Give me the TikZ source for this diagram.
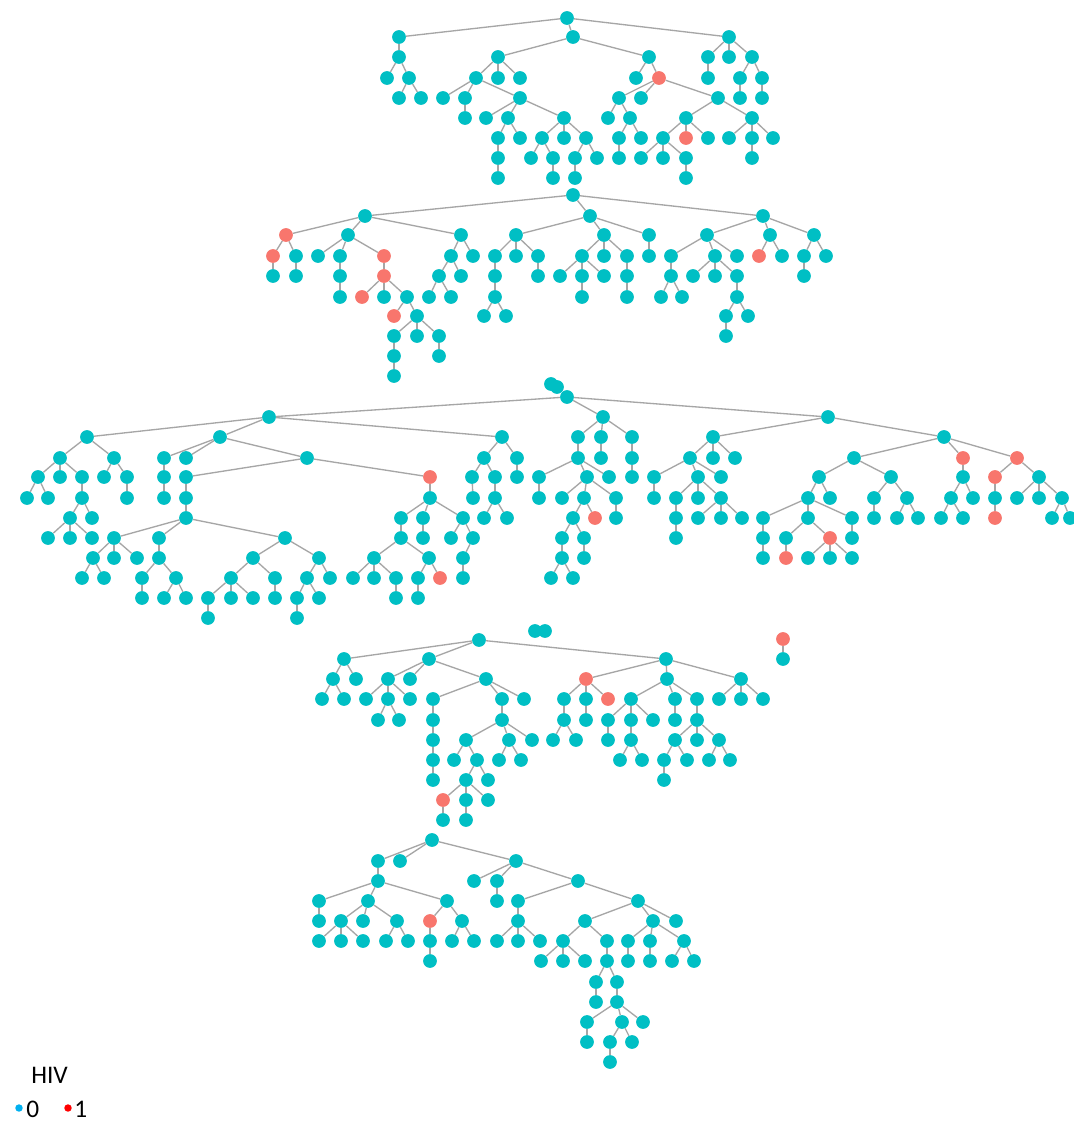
\documentclass[tikz,border=0pt]{standalone}
\usepackage{fontspec}
\setmainfont{Carlito}
\usetikzlibrary{backgrounds}
\definecolor{teal0}{HTML}{00BFC4}
\definecolor{red0}{HTML}{F8766D}
\definecolor{edgec}{HTML}{A6A6A6}
\definecolor{legblue}{HTML}{00B0F0}
\definecolor{legred}{HTML}{FF0000}
\begin{document}
\begin{tikzpicture}[x=0.75pt,y=-0.75pt,
  tn/.style={circle,fill=teal0,inner sep=0pt,minimum size=10.3pt},
  rn/.style={circle,fill=red0,inner sep=0pt,minimum size=10.3pt},
  edge/.style={draw=edgec,line width=1pt},
  legtext/.style={inner sep=0pt,anchor=base west,font=\fontsize{19}{21}\selectfont},
  legdot/.style={circle,inner sep=0pt,minimum size=5.6pt}]
\begin{pgfonlayer}{background}
\fill[white] (0,0) rectangle (1074,1124);
\end{pgfonlayer}
\useasboundingbox (0,0) rectangle (1074,1124);
% ---------- teal nodes ----------
\foreach \x/\y in {
567/18, 399/37, 573/37, 729/37,
399/57, 498/57, 649/57, 708/57, 729/57, 752/57,
387/78, 409/78, 476/78, 498/78, 520/78, 636/78, 708/78, 740/78, 762/78,
399/98, 421/98, 443/98, 465/98, 520/98, 619/98, 641/98, 718/98, 740/98, 762/98,
465/118, 486/118, 508/118, 564/118, 608/118, 630/118, 686/118, 752/118,
498/138, 520/138, 542/138, 564/138, 586/138, 619/138, 641/138, 663/138, 708/138, 729/138, 752/138, 773/138,
498/158, 531/158, 553/158, 575/158, 597/158, 619/158, 641/158, 663/158, 686/158, 752/158,
498/178, 553/178, 575/178, 686/178,
573/195, 365/216, 590/216, 763/216,
348/235, 461/235, 516/235, 604/235, 649/235, 707/235, 770/235, 814/235,
296/256, 318/256, 340/256, 451/256, 473/256, 495/256, 516/256, 538/256, 582/256, 604/256, 627/256, 649/256, 671/256, 715/256, 737/256, 782/256, 804/256, 826/256,
273/276, 296/276, 340/276, 439/276, 461/276, 495/276, 538/276, 560/276, 582/276, 604/276, 627/276, 671/276, 693/276, 715/276, 737/276, 804/276,
340/297, 384/297, 407/297, 429/297, 451/297, 495/297, 582/297, 627/297, 661/297, 682/297, 737/297,
417/316, 484/316, 506/316, 726/316, 748/316,
394/336, 417/336, 439/336, 726/336,
394/356, 439/356, 394/376}
  \node[tn] (n\x-\y) at (\x,\y) {};
\foreach \x/\y in {
567/397, 269/417, 603/417, 828/417,
87/437, 220/437, 502/437, 578/437, 601/437, 632/437, 713/437, 944/437,
60/458, 114/458, 164/458, 186/458, 307/458, 484/458, 517/458, 578/458, 601/458, 632/458, 690/458, 713/458, 735/458, 854/458,
38/477, 60/477, 82/477, 104/477, 127/477, 164/477, 186/477, 472/477, 495/477, 517/477, 539/477, 587/477, 609/477, 632/477, 654/477, 698/477, 721/477, 819/477, 891/477, 963/477, 1039/477,
27/498, 48/498, 82/498, 127/498, 164/498, 186/498, 430/498, 473/498, 495/498, 539/498, 562/498, 584/498, 616/498, 654/498, 676/498, 698/498, 721/498, 808/498, 830/498, 874/498, 907/498, 951/498, 973/498, 995/498, 1017/498, 1039/498, 1062/498,
70/518, 92/518, 186/518, 401/518, 423/518, 463/518, 484/518, 507/518, 573/518, 616/518, 676/518, 698/518, 721/518, 742/518, 763/518, 808/518, 852/518, 874/518, 897/518, 918/518, 941/518, 963/518, 1052/518, 1070/518,
48/538, 70/538, 92/538, 114/538, 159/538, 285/538, 401/538, 423/538, 451/538, 473/538, 562/538, 584/538, 676/538, 763/538, 786/538, 852/538,
93/558, 114/558, 137/558, 159/558, 253/558, 319/558, 374/558, 429/558, 463/558, 562/558, 584/558, 763/558, 808/558, 830/558, 852/558,
82/578, 104/578, 142/578, 176/578, 231/578, 275/578, 307/578, 330/578, 353/578, 374/578, 396/578, 418/578, 463/578, 551/578, 573/578,
142/598, 164/598, 186/598, 208/598, 231/598, 253/598, 275/598, 297/598, 319/598, 396/598, 418/598,
208/618, 297/618}
  \node[tn] (n\x-\y) at (\x,\y) {};
\foreach \x/\y in {
479/640, 344/659, 429/659, 666/659,
333/679, 356/679, 388/679, 410/679, 486/679, 667/679, 741/679,
322/699, 344/699, 366/699, 388/699, 410/699, 433/699, 502/699, 524/699, 564/699, 586/699, 631/699, 675/699, 697/699, 719/699, 741/699, 763/699,
378/720, 399/720, 433/720, 502/720, 564/720, 586/720, 608/720, 631/720, 653/720, 675/720, 697/720,
433/740, 466/740, 509/740, 532/740, 553/740, 576/740, 608/740, 631/740, 675/740, 697/740, 719/740,
433/760, 454/760, 477/760, 499/760, 521/760, 620/760, 642/760, 664/760, 687/760, 709/760, 730/760,
433/780, 466/780, 488/780, 664/780,
466/800, 488/800, 443/820, 466/820, 783/659,
432/840, 378/861, 400/861, 516/861,
378/881, 474/881, 497/881, 578/881,
319/901, 368/901, 447/901, 497/901, 518/901, 638/901,
319/921, 341/921, 363/921, 397/921, 462/921, 518/921, 585/921, 653/921, 676/921,
319/941, 341/941, 363/941, 386/941, 408/941, 430/941, 452/941, 474/941, 497/941, 518/941, 540/941, 563/941, 607/941, 628/941, 650/941, 684/941,
430/961, 541/961, 563/961, 585/961, 607/961, 628/961, 650/961, 672/961, 694/961,
596/982, 617/982, 596/1002, 617/1002,
587/1022, 622/1022, 643/1022,
587/1042, 610/1042, 632/1042,
610/1062}
  \node[tn] (n\x-\y) at (\x,\y) {};
% ---------- red nodes ----------
\foreach \x/\y in {
659/78, 686/138,
286/235, 273/256, 384/256, 759/256, 384/276, 362/297, 394/316,
963/458, 1017/458, 430/477, 995/477, 595/518, 995/518, 830/538, 786/558, 440/578,
586/679, 608/699, 443/800, 783/639,
430/921}
  \node[rn] (n\x-\y) at (\x,\y) {};
% ---------- small isolated blobs ----------
\node[tn] (blobA1) at (551,384) {};
\node[tn] (blobA2) at (557,387) {};
\node[tn] (blobB1) at (535,631) {};
\node[tn] (blobB2) at (545,631) {};
% ---------- edges ----------
\begin{pgfonlayer}{background}
\foreach \a/\b in {
567-18/399-37, 567-18/573-37, 567-18/729-37,
399-37/399-57, 399-57/387-78, 399-57/409-78, 409-78/399-98, 409-78/421-98,
573-37/498-57, 573-37/649-57,
498-57/476-78, 498-57/498-78, 498-57/520-78,
476-78/443-98, 476-78/465-98, 476-78/520-98,
465-98/465-118,
520-98/486-118, 520-98/508-118, 520-98/564-118,
508-118/498-138, 508-118/520-138,
498-138/498-158, 498-158/498-178,
564-118/542-138, 564-118/564-138, 564-118/586-138,
542-138/531-158, 542-138/553-158, 553-158/553-178,
586-138/575-158, 586-138/597-158, 575-158/575-178,
649-57/636-78, 649-57/659-78,
659-78/619-98, 659-78/641-98, 659-78/718-98,
619-98/608-118, 619-98/630-118,
630-118/619-138, 630-118/641-138, 619-138/619-158,
718-98/686-118, 718-98/752-118,
686-118/663-138, 686-118/686-138, 686-118/708-138,
663-138/641-158, 663-138/663-158, 663-138/686-158, 686-158/686-178,
752-118/729-138, 752-118/752-138, 752-118/773-138, 752-138/752-158,
729-37/708-57, 729-37/729-57, 729-37/752-57,
708-57/708-78, 752-57/740-78, 752-57/762-78, 740-78/740-98, 762-78/762-98}
  \draw[edge] (n\a) -- (n\b);
\foreach \a/\b in {
573-195/365-216, 573-195/590-216, 573-195/763-216,
365-216/286-235, 365-216/348-235, 365-216/461-235,
286-235/273-256, 286-235/296-256, 273-256/273-276, 296-256/296-276,
348-235/318-256, 348-235/340-256, 348-235/384-256,
340-256/340-276, 340-276/340-297,
384-256/384-276, 384-276/362-297, 384-276/384-297, 384-276/407-297,
407-297/394-316, 407-297/417-316,
417-316/394-336, 417-316/417-336, 417-316/439-336,
394-336/394-356, 394-356/394-376, 439-336/439-356,
461-235/451-256, 461-235/473-256, 451-256/439-276, 451-256/461-276,
439-276/429-297, 439-276/451-297,
590-216/516-235, 590-216/604-235, 590-216/649-235,
516-235/495-256, 516-235/516-256, 516-235/538-256,
495-256/495-276, 495-276/495-297, 495-297/484-316, 495-297/506-316,
538-256/538-276,
604-235/582-256, 604-235/604-256, 604-235/627-256,
582-256/560-276, 582-256/582-276, 582-256/604-276, 582-276/582-297,
627-256/627-276, 627-276/627-297,
649-235/649-256,
763-216/707-235, 763-216/770-235, 763-216/814-235,
707-235/671-256, 707-235/715-256, 707-235/737-256,
671-256/671-276, 671-276/661-297, 671-276/682-297,
715-256/693-276, 715-256/715-276, 715-256/737-276,
737-276/737-297, 737-297/726-316, 737-297/748-316, 726-316/726-336,
770-235/759-256, 770-235/782-256,
814-235/804-256, 814-235/826-256, 804-256/804-276}
  \draw[edge] (n\a) -- (n\b);
\foreach \a/\b in {
567-397/269-417, 567-397/603-417, 567-397/828-417,
269-417/87-437, 269-417/220-437, 269-417/502-437,
87-437/60-458, 87-437/114-458,
60-458/38-477, 60-458/60-477, 60-458/82-477,
38-477/27-498, 38-477/48-498,
82-477/82-498, 82-498/70-518, 82-498/92-518,
70-518/48-538, 70-518/70-538, 70-518/92-538,
114-458/104-477, 114-458/127-477, 127-477/127-498,
220-437/164-458, 220-437/186-458, 220-437/307-458,
164-458/164-477, 164-477/164-498,
307-458/186-477, 307-458/430-477,
186-477/186-498, 186-498/186-518,
186-518/114-538, 186-518/159-538, 186-518/285-538,
114-538/93-558, 114-538/114-558, 114-538/137-558,
93-558/82-578, 93-558/104-578,
159-538/159-558, 159-558/142-578, 159-558/176-578,
142-578/142-598, 176-578/164-598, 176-578/186-598,
285-538/253-558, 285-538/319-558,
253-558/231-578, 253-558/275-578,
231-578/208-598, 231-578/231-598, 231-578/253-598, 208-598/208-618,
275-578/275-598,
319-558/307-578, 319-558/330-578,
307-578/297-598, 307-578/319-598, 297-598/297-618,
430-477/430-498,
430-498/401-518, 430-498/423-518, 430-498/463-518,
401-518/401-538, 401-538/374-558, 401-538/429-558,
374-558/353-578, 374-558/374-578, 374-558/396-578, 396-578/396-598,
429-558/418-578, 429-558/440-578, 418-578/418-598,
423-518/423-538,
463-518/451-538, 463-518/473-538, 473-538/463-558, 463-558/463-578,
502-437/484-458, 502-437/517-458,
484-458/472-477, 484-458/495-477, 472-477/473-498,
495-477/495-498, 495-498/484-518, 495-498/507-518,
517-458/517-477}
  \draw[edge] (n\a) -- (n\b);
\foreach \a/\b in {
603-417/578-437, 603-417/601-437, 603-417/632-437,
578-437/578-458, 578-458/539-477, 578-458/587-477, 578-458/609-477,
539-477/539-498,
587-477/562-498, 587-477/584-498, 587-477/616-498,
584-498/573-518, 584-498/595-518,
573-518/562-538, 573-518/584-538,
562-538/562-558, 562-558/551-578, 562-558/573-578,
584-538/584-558,
616-498/616-518,
601-437/601-458,
632-437/632-458, 632-458/632-477,
828-417/713-437, 828-417/944-437,
713-437/690-458, 713-437/713-458, 713-437/735-458,
690-458/654-477, 690-458/698-477, 690-458/721-477,
654-477/654-498,
698-477/676-498, 698-477/698-498, 698-477/721-498,
676-498/676-518, 676-518/676-538,
721-498/698-518, 721-498/721-518, 721-498/742-518,
944-437/854-458, 944-437/963-458, 944-437/1017-458,
854-458/819-477, 854-458/891-477,
819-477/808-498, 819-477/830-498,
808-498/763-518, 808-498/808-518, 808-498/852-518,
763-518/763-538, 763-538/763-558,
808-518/786-538, 808-518/830-538,
786-538/786-558,
830-538/808-558, 830-538/830-558, 830-538/852-558,
852-518/852-538,
891-477/874-498, 891-477/907-498, 874-498/874-518,
907-498/897-518, 907-498/918-518,
963-458/963-477, 963-477/951-498, 963-477/973-498,
951-498/941-518, 951-498/963-518,
1017-458/995-477, 1017-458/1039-477,
995-477/995-498, 995-498/995-518,
1039-477/1017-498, 1039-477/1039-498, 1039-477/1062-498,
1062-498/1052-518, 1062-498/1070-518}
  \draw[edge] (n\a) -- (n\b);
\foreach \a/\b in {
479-640/344-659, 479-640/429-659, 479-640/666-659,
344-659/333-679, 344-659/356-679,
333-679/322-699, 333-679/344-699,
429-659/388-679, 429-659/410-679, 429-659/486-679,
388-679/366-699, 388-679/388-699, 388-679/410-699,
388-699/378-720, 388-699/399-720,
486-679/433-699, 486-679/502-699, 486-679/524-699,
433-699/433-720, 433-720/433-740, 433-740/433-760, 433-760/433-780,
502-699/502-720,
502-720/466-740, 502-720/509-740, 502-720/532-740,
466-740/454-760, 466-740/477-760,
477-760/466-780, 477-760/488-780,
466-780/443-800, 466-780/466-800, 466-780/488-800,
443-800/443-820, 466-800/466-820,
509-740/499-760, 509-740/521-760,
666-659/586-679, 666-659/667-679, 666-659/741-679,
586-679/564-699, 586-679/586-699, 586-679/608-699,
564-699/564-720, 564-720/553-740, 564-720/576-740,
586-699/586-720,
667-679/631-699, 667-679/675-699, 667-679/697-699,
631-699/608-720, 631-699/631-720, 631-699/653-720,
608-720/608-740, 631-720/631-740,
631-740/620-760, 631-740/642-760,
675-699/675-720,
697-699/697-720,
697-720/675-740, 697-720/697-740, 697-720/719-740,
675-740/664-760, 675-740/687-760, 664-760/664-780,
719-740/709-760, 719-740/730-760,
741-679/719-699, 741-679/741-699, 741-679/763-699,
783-639/783-659}
  \draw[edge] (n\a) -- (n\b);
\foreach \a/\b in {
432-840/378-861, 432-840/400-861, 432-840/516-861,
378-861/378-881,
378-881/319-901, 378-881/368-901, 378-881/447-901,
319-901/319-921,
368-901/341-921, 368-901/363-921, 368-901/397-921,
341-921/319-941, 341-921/341-941, 341-921/363-941,
397-921/386-941, 397-921/408-941,
447-901/430-921, 447-901/462-921,
430-921/430-941, 430-941/430-961,
462-921/452-941, 462-921/474-941,
516-861/474-881, 516-861/497-881, 516-861/578-881,
497-881/497-901,
578-881/518-901, 578-881/638-901,
518-901/518-921,
518-921/497-941, 518-921/518-941, 518-921/540-941,
638-901/585-921, 638-901/653-921, 638-901/676-921,
585-921/563-941, 585-921/607-941,
563-941/541-961, 563-941/563-961, 563-941/585-961,
607-941/607-961,
607-961/596-982, 607-961/617-982,
596-982/596-1002, 617-982/617-1002,
617-1002/587-1022, 617-1002/622-1022, 617-1002/643-1022,
587-1022/587-1042,
622-1022/610-1042, 622-1022/632-1042,
610-1042/610-1062,
653-921/628-941, 653-921/650-941, 653-921/684-941,
628-941/628-961, 650-941/650-961,
684-941/672-961, 684-941/694-961}
  \draw[edge] (n\a) -- (n\b);
\end{pgfonlayer}
% ---------- legend ----------
\node[legtext] (legtitle) at (31,1083) {HIV};
\node[legdot,fill=legblue] (legdot0) at (19,1108) {};
\node[legtext] (leg0) at (26,1117) {0};
\node[legdot,fill=legred] (legdot1) at (68,1108) {};
\node[legtext] (leg1) at (74,1117) {1};
\end{tikzpicture}
\end{document}
